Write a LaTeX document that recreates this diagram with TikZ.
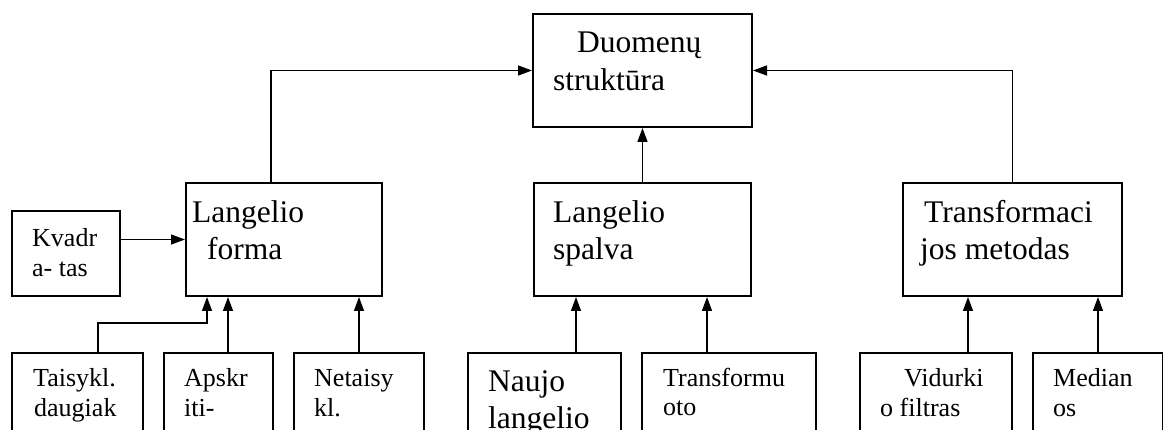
\documentclass[tikz,border=0pt]{standalone}
\usepackage{fontspec}
\setmainfont{Liberation Serif}
\usetikzlibrary{arrows.meta}
\tikzset{
  box/.style={draw, line width=2pt, inner sep=0pt, anchor=north west},
  conn/.style={line width=1.4pt, -{Triangle[length=14pt,width=10pt]}},
  bigtxt/.style={anchor=base west, inner sep=0pt, font=\fontsize{31.5}{37}\selectfont},
  smalltxt/.style={anchor=base west, inner sep=0pt, font=\fontsize{26}{30}\selectfont},
}
\begin{document}
\begin{tikzpicture}[x=1pt,y=-1pt]
\useasboundingbox (0,0) rectangle (1163,430);
\clip (0,0) rectangle (1163,430);
% boxes
\node[box, minimum width=219pt, minimum height=113pt] (top) at (532,13) {};
\node[box, minimum width=196pt, minimum height=113pt] (forma) at (185,182) {};
\node[box, minimum width=108pt, minimum height=85pt] (kvadr) at (11,210) {};
\node[box, minimum width=217pt, minimum height=113pt] (spalva) at (533,182) {};
\node[box, minimum width=219pt, minimum height=113pt] (transf) at (902,182) {};
\node[box, minimum width=131pt, minimum height=110pt] (taisykl) at (11,352) {};
\node[box, minimum width=109pt, minimum height=110pt] (apskr) at (163,352) {};
\node[box, minimum width=130pt, minimum height=110pt] (netaisy) at (293,352) {};
\node[box, minimum width=153pt, minimum height=110pt] (naujo) at (467,352) {};
\node[box, minimum width=174pt, minimum height=110pt] (transformu) at (641,352) {};
\node[box, minimum width=152pt, minimum height=110pt] (vidurki) at (859,352) {};
\node[box, minimum width=130pt, minimum height=110pt] (median) at (1032,352) {};
% texts
\node[bigtxt] (t1a) at (577,53) {Duomenų};
\node[bigtxt] (t1b) at (553,91) {struktūra};
\node[bigtxt] (t2a) at (192,223) {Langelio};
\node[bigtxt] (t2b) at (207,260) {forma};
\node[smalltxt] (t3a) at (32,247) {Kvadr};
\node[smalltxt] (t3b) at (32,277) {a- tas};
\node[bigtxt] (t4a) at (553,223) {Langelio};
\node[bigtxt] (t4b) at (553,260) {spalva};
\node[bigtxt] (t5a) at (924,223) {Transformaci};
\node[bigtxt] (t5b) at (920,260) {jos metodas};
\node[smalltxt] (t6a) at (33,387) {Taisykl.};
\node[smalltxt] (t6b) at (34,417) {daugiak};
\node[smalltxt] (t7a) at (184,387) {Apskr};
\node[smalltxt] (t7b) at (184,417) {iti-};
\node[smalltxt] (t8a) at (314,387) {Netaisy};
\node[smalltxt] (t8b) at (314,417) {kl.};
\node[bigtxt] (t9a) at (488,392) {Naujo};
\node[bigtxt] (t9b) at (488,429) {langelio};
\node[smalltxt] (t10a) at (663,387) {Transformu};
\node[smalltxt] (t10b) at (663,416) {oto};
\node[smalltxt] (t11a) at (904,387) {Vidurki};
\node[smalltxt] (t11b) at (880,417) {o filtras};
\node[smalltxt] (t12a) at (1053,387) {Median};
\node[smalltxt] (t12b) at (1053,417) {os};
% connectors
\coordinate (fup) at ([xshift=86pt]forma.north west);
\draw[conn] (fup) |- (top.west);
\draw[conn] (transf.north) |- (top.east);
\draw[conn] (spalva.north) -- (top.south);
\draw[conn] (kvadr.east |- forma.west) -- (forma.west);
\coordinate (ta) at ([xshift=87pt]taisykl.north west);
\coordinate (tb) at ([xshift=22pt]forma.south west);
\draw[conn] (ta) -- ++(0,-29) -| (tb);
\coordinate (ap) at ([xshift=65pt]apskr.north west);
\draw[conn] (ap) -- (ap |- forma.south);
\draw[conn] (netaisy.north) -- (netaisy.north |- forma.south);
\coordinate (na) at ([xshift=109pt]naujo.north west);
\draw[conn] (na) -- (na |- spalva.south);
\coordinate (tr) at ([xshift=66pt]transformu.north west);
\draw[conn] (tr) -- (tr |- spalva.south);
\coordinate (vi) at ([xshift=109pt]vidurki.north west);
\draw[conn] (vi) -- (vi |- transf.south);
\coordinate (me) at ([xshift=66pt]median.north west);
\draw[conn] (me) -- (me |- transf.south);
\end{tikzpicture}
\end{document}
